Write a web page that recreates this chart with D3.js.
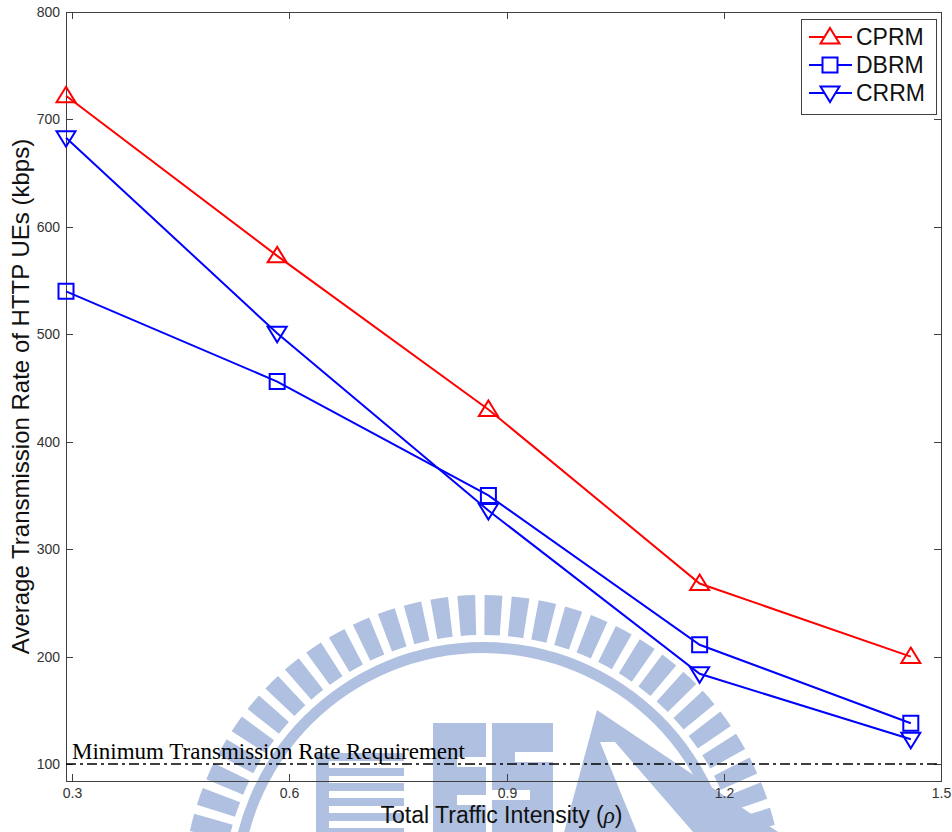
<!DOCTYPE html>
<html>
<head>
<meta charset="utf-8">
<script src="https://cdn.jsdelivr.net/npm/d3@7"></script>
<style>
  html, body { margin: 0; padding: 0; background: #fff; }
  svg { display: block; }
  text { font-family: Arial, "Liberation Sans", sans-serif; }
  text.serif, tspan.serif { font-family: "Liberation Serif", "Times New Roman", serif; }
</style>
</head>
<body>
<svg id="chart" width="952" height="832"></svg>
<script>
// Traffic intensity (rho) values and per-scheme average HTTP rates (kbps)
const rho   = [0.2917, 0.5833, 0.875, 1.1667, 1.4583];
const cprm  = [722, 573, 430, 268, 200];
const dbrm  = [540, 456, 350, 211, 138];
const crrm  = [683, 501, 336, 184, 123];
const seriesNames = ["CPRM", "DBRM", "CRRM"];
const xTicks = [0.3, 0.6, 0.9, 1.2, 1.5];
const yTicks = [100, 200, 300, 400, 500, 600, 700, 800];
const minRate = 100;
const minRateLabel = "Minimum Transmission Rate Requirement";

(function draw() {
const svg = d3.select("#chart");
const plotL = 66, plotR = 941, plotT = 12, plotB = 781;

const x = d3.scaleLinear().domain([0.2917, 1.5]).range([plotL, plotR]);
const y = d3.scaleLinear().domain([84.2, 800]).range([plotB, plotT]);

// ---- faint institutional watermark behind the plot ----
const wmColor = "#afc0e0";
const wm = svg.append("g").attr("fill", wmColor);
const cx = 483, cy = 895;
const toothArc = d3.arc().innerRadius(260).outerRadius(300);
const step = 5.2 * Math.PI / 180, half = 1.7 * Math.PI / 180;
for (let a = -Math.PI; a < Math.PI; a += step) {
  wm.append("path")
    .attr("transform", `translate(${cx},${cy})`)
    .attr("d", toothArc({startAngle: a - half, endAngle: a + half}));
}
wm.append("path")
  .attr("transform", `translate(${cx},${cy})`)
  .attr("d", d3.arc().innerRadius(242).outerRadius(253)({startAngle: 0, endAngle: 2 * Math.PI}));
// striped block
wm.append("rect").attr("x", 316).attr("y", 753).attr("width", 13).attr("height", 90);
for (let s = 0; s < 6; s++) {
  wm.append("rect").attr("x", 329).attr("y", 753 + s * 15).attr("width", 75).attr("height", 8);
}
// letter blocks
wm.append("rect").attr("x", 433).attr("y", 723).attr("width", 53).attr("height", 120);
wm.append("rect").attr("x", 492).attr("y", 723).attr("width", 61).attr("height", 120);
const wmCut = svg.append("g").attr("fill", "#fff");
wmCut.append("rect").attr("x", 457).attr("y", 757).attr("width", 29).attr("height", 10);
wmCut.append("rect").attr("x", 457).attr("y", 795).attr("width", 29).attr("height", 10);
wmCut.append("rect").attr("x", 515).attr("y", 752).attr("width", 38).attr("height", 10);
wmCut.append("rect").attr("x", 492).attr("y", 790).attr("width", 38).attr("height", 10);
// triangle
svg.append("polygon").attr("fill", wmColor).attr("points", "597,710 790,840 562,840");
svg.append("polygon").attr("fill", "#fff").attr("points", "600,742 615,742 700,840 640,840");

// ---- axes box and ticks ----
const axisColor = "#404040";
const g = svg.append("g");

g.append("rect")
  .attr("x", plotL + 0.5).attr("y", plotT + 0.5)
  .attr("width", plotR - plotL).attr("height", plotB - plotT)
  .attr("fill", "none").attr("stroke", axisColor).attr("stroke-width", 1);

const tickLen = 7;
yTicks.forEach(v => {
  const yy = Math.round(y(v)) + 0.5;
  g.append("line").attr("x1", plotL).attr("x2", plotL + tickLen).attr("y1", yy).attr("y2", yy)
    .attr("stroke", axisColor);
  g.append("line").attr("x1", plotR - tickLen).attr("x2", plotR).attr("y1", yy).attr("y2", yy)
    .attr("stroke", axisColor);
  g.append("text").attr("x", plotL - 6).attr("y", yy).attr("dy", "0.35em")
    .attr("text-anchor", "end").attr("font-size", 14).attr("fill", "#333")
    .text(d3.format("d")(v));
});
xTicks.forEach(v => {
  const xx = Math.round(x(v)) + 0.5;
  g.append("line").attr("x1", xx).attr("x2", xx).attr("y1", plotB).attr("y2", plotB - tickLen)
    .attr("stroke", axisColor);
  g.append("line").attr("x1", xx).attr("x2", xx).attr("y1", plotT).attr("y2", plotT + tickLen)
    .attr("stroke", axisColor);
  g.append("text").attr("x", xx).attr("y", 798)
    .attr("text-anchor", "middle").attr("font-size", 14).attr("fill", "#333")
    .text(d3.format(".1f")(v));
});

// ---- axis titles ----
svg.append("text")
  .attr("transform", `translate(29,${(plotT + plotB) / 2}) rotate(-90)`)
  .attr("text-anchor", "middle").attr("font-size", 24).attr("fill", "#111")
  .text("Average Transmission Rate of HTTP UEs (kbps)");
const xt = svg.append("text")
  .attr("x", (plotL + plotR) / 2 - 2).attr("y", 823)
  .attr("text-anchor", "middle").attr("font-size", 23).attr("fill", "#111");
xt.append("tspan").text("Total Traffic Intensity (");
xt.append("tspan").attr("class", "serif").attr("font-style", "italic").text("ρ");
xt.append("tspan").text(")");

// ---- minimum-rate requirement line ----
svg.append("line")
  .attr("x1", plotL).attr("x2", plotR)
  .attr("y1", y(minRate)).attr("y2", y(minRate))
  .attr("stroke", "#000").attr("stroke-width", 1.6)
  .attr("stroke-dasharray", "10,4,3,4");
svg.append("text")
  .attr("class", "serif")
  .attr("x", 72).attr("y", y(minRate) - 5)
  .attr("font-size", 23).attr("fill", "#000")
  .text(minRateLabel);

// ---- series ----
const markerPath = {
  up:     "M0,-9L9.5,6.5L-9.5,6.5Z",
  square: "M-7.5,-7.5H7.5V7.5H-7.5Z",
  down:   "M0,9L9.5,-6.5L-9.5,-6.5Z"
};
const series = [
  {name: seriesNames[0], values: cprm, color: "#ff0000", marker: "up"},
  {name: seriesNames[1], values: dbrm, color: "#0000ff", marker: "square"},
  {name: seriesNames[2], values: crrm, color: "#0000ff", marker: "down"}
];
const line = d3.line().x((d, i) => x(rho[i])).y(d => y(d));

series.forEach(s => {
  svg.append("path").attr("d", line(s.values))
    .attr("fill", "none").attr("stroke", s.color).attr("stroke-width", 2);
  svg.selectAll(null).data(s.values).enter().append("path")
    .attr("transform", (d, i) => `translate(${x(rho[i])},${y(d)})`)
    .attr("d", markerPath[s.marker])
    .attr("fill", "none").attr("stroke", s.color).attr("stroke-width", 2);
});

// ---- legend ----
const lg = svg.append("g");
lg.append("rect").attr("x", 801.5).attr("y", 19.5).attr("width", 135).attr("height", 95)
  .attr("fill", "#fff").attr("stroke", axisColor).attr("stroke-width", 1);
series.forEach((s, i) => {
  const ly = 37 + i * 28;
  lg.append("line").attr("x1", 809).attr("x2", 852).attr("y1", ly).attr("y2", ly)
    .attr("stroke", s.color).attr("stroke-width", 2);
  lg.append("path").attr("transform", `translate(830,${ly})`).attr("d", markerPath[s.marker])
    .attr("fill", "#fff").attr("stroke", s.color).attr("stroke-width", 2);
  lg.append("text").attr("x", 856).attr("y", ly).attr("dy", "0.36em")
    .attr("font-size", 23).attr("fill", "#111").text(s.name);
});
})();
</script>
</body>
</html>
